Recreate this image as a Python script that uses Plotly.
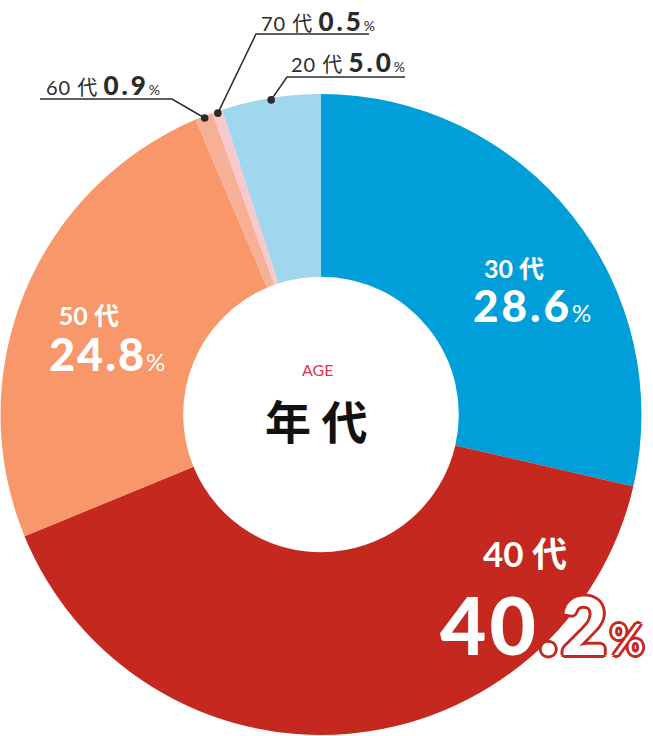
import math
import plotly.graph_objects as go

# ---- data ----
age_groups = ["30 代", "40 代", "50 代", "60 代", "70 代", "20 代"]
shares = [28.6, 40.2, 24.8, 0.9, 0.5, 5.0]
slice_colors = ["#009fd9", "#c4281f", "#f7976a", "#f6b096", "#f8c8ca", "#a0d7ef"]
center_title = "年 代"
center_sub = "AGE"

W, H = 653, 736
CX, CY, R = 321, 414.5, 320.5  # pie geometry in page pixels


def px(x):
    return x / W


def py(y):
    return 1 - y / H


FONT = "Lato, 'Noto Sans CJK JP', sans-serif"
DARK = "#2b2b2b"
RED = "#c4281f"

fig = go.Figure()
fig.add_trace(go.Pie(
    labels=age_groups,
    values=shares,
    sort=False,
    direction="clockwise",
    rotation=0,
    hole=0.43,
    marker=dict(colors=slice_colors, line=dict(width=0)),
    textinfo="none",
    hoverinfo="label+percent",
    showlegend=False,
    domain=dict(x=[max(0, px(CX - R)), px(CX + R)], y=[py(CY + R), py(CY - R)]),
))

annotations = []
shapes = []

# inside labels: index -> (value centre x, bottom y, base size, name size, nbsp, value size, spacing, pct size)
inside = {
    0: (532, 333, 34, 25, 6, 44, 3, 24),
    2: (107, 383, 35, 25, 6, 45, 2, 24),
    1: (542, 674, 68, 35, 4, 80, 3, 42),
}
for i, (vx, by, base, nsz, nb, vsz, ls, psz) in inside.items():
    line1 = f"<span style='font-size:{nsz}px;font-weight:bold'>{age_groups[i]}{'&nbsp;' * nb}</span>"
    line2 = (f"<span style='font-size:{vsz}px;font-weight:900;letter-spacing:{ls}px'>{shares[i]:.1f}</span>"
             f"<span style='font-size:{psz}px;font-weight:normal'>%</span>")
    f = dict(family=FONT, size=base, color="white")
    if i == 1:
        offs = [(3, 0), (-3, 0), (0, 3), (0, -3), (2, 2), (-2, -2), (2, -2), (-2, 2)]
        f["shadow"] = ", ".join(f"{a}px {b}px 0 {RED}" for a, b in offs)
    annotations.append(dict(
        x=px(vx), y=py(by), xref="paper", yref="paper",
        text=line1 + "<br>" + line2, showarrow=False, align="center",
        font=f, xanchor="center", yanchor="bottom"))

# center text
annotations.append(dict(
    x=px(317), y=py(369), xref="paper", yref="paper", text=center_sub,
    showarrow=False, font=dict(family=FONT, size=16, color="#e0334a"),
    xanchor="center", yanchor="middle"))
annotations.append(dict(
    x=px(316), y=py(419), xref="paper", yref="paper", text=center_title,
    showarrow=False, font=dict(family="'Noto Sans CJK JP'", size=46, color="#111111", weight="bold"),
    xanchor="center", yanchor="middle"))

# outside labels with leader lines: (index, text left x, text y, underline y, short end x, far end x)
outside = [
    (3, 44, 85, 99, 172, 40),
    (4, 259, 21, 34, 256, 369),
    (5, 289, 62, 77, 287, 405),
]
total = sum(shares)
cum = [sum(shares[:k]) for k in range(len(shares))]
for i, tx, ty, uy, ex, fx in outside:
    annotations.append(dict(
        x=px(tx), y=py(ty), xref="paper", yref="paper",
        text=(f"<span style='letter-spacing:1px'>{age_groups[i]}</span> "
              f"<span style='font-size:26px;font-weight:900;letter-spacing:3px'>{shares[i]:.1f}</span>"
              f"<span style='font-size:14px'>%</span>"),
        showarrow=False, font=dict(family=FONT, size=20, color=DARK),
        xanchor="left", yanchor="middle"))
    mid = (cum[i] + shares[i] / 2) / total * 2 * math.pi
    dx = CX + (R - 2) * math.sin(mid)
    dy = CY - (R - 2) * math.cos(mid)
    path = f"M {px(fx)} {py(uy)} L {px(ex)} {py(uy)} L {px(dx)} {py(dy)}"
    shapes.append(dict(type="path", xref="paper", yref="paper", path=path,
                       line=dict(color=DARK, width=1.5)))
    rr = 3.8
    shapes.append(dict(type="circle", xref="paper", yref="paper",
                       x0=px(dx - rr), x1=px(dx + rr), y0=py(dy + rr), y1=py(dy - rr),
                       fillcolor=DARK, line=dict(width=0)))

fig.update_layout(
    width=W, height=H,
    margin=dict(l=0, r=0, t=0, b=0),
    paper_bgcolor="white", plot_bgcolor="white",
    annotations=annotations, shapes=shapes,
)

fig.write_html("out.html", config={"displayModeBar": False},
               post_script="document.body.style.margin='0';")
